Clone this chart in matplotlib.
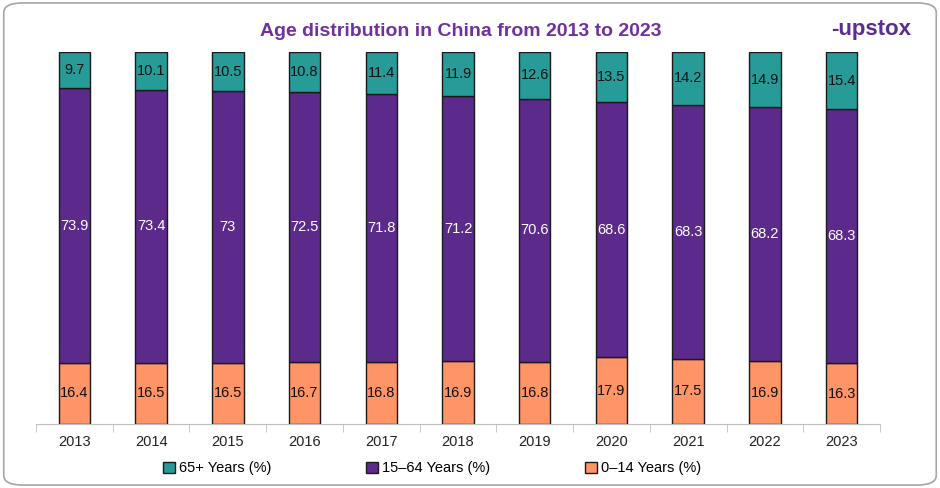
import matplotlib
matplotlib.use("Agg")
import matplotlib.pyplot as plt
from matplotlib.patches import FancyBboxPatch, Patch
import numpy as np

years = ["2013", "2014", "2015", "2016", "2017", "2018", "2019", "2020", "2021", "2022", "2023"]
age_0_14 = [16.4, 16.5, 16.5, 16.7, 16.8, 16.9, 16.8, 17.9, 17.5, 16.9, 16.3]
age_15_64 = [73.9, 73.4, 73, 72.5, 71.8, 71.2, 70.6, 68.6, 68.3, 68.2, 68.3]
age_65 = [9.7, 10.1, 10.5, 10.8, 11.4, 11.9, 12.6, 13.5, 14.2, 14.9, 15.4]

c_young = "#ff9466"
c_mid = "#5b2a8a"
c_old = "#269b97"

plt.rcParams['font.family'] = ['Liberation Sans', 'DejaVu Sans']

fig = plt.figure(figsize=(9.4, 4.88), dpi=100)
ax = fig.add_axes([36/940, 1-424/488, (880-36)/940, (424-52)/488])

x = np.arange(len(years))
w = 0.41
ek = dict(edgecolor="#1a1a1a", linewidth=1.0)
ax.bar(x, age_0_14, w, color=c_young, **ek)
ax.bar(x, age_15_64, w, bottom=age_0_14, color=c_mid, **ek)
bottom3 = [a + b for a, b in zip(age_0_14, age_15_64)]
ax.bar(x, age_65, w, bottom=bottom3, color=c_old, **ek)

def fmt(v):
    return f"{v:g}"

for i in range(len(years)):
    ax.text(x[i], age_0_14[i] / 2, fmt(age_0_14[i]), ha="center", va="center", fontsize=10.5, color="#111111")
    ax.text(x[i], age_0_14[i] + age_15_64[i] / 2, fmt(age_15_64[i]), ha="center", va="center", fontsize=10.5, color="white")
    ax.text(x[i], bottom3[i] + age_65[i] / 2, fmt(age_65[i]), ha="center", va="center", fontsize=10.5, color="#111111")

ax.set_xlim(-0.5, len(years) - 0.5)
ax.set_ylim(0, 100)
ax.set_yticks([])
for s in ["left", "right", "top"]:
    ax.spines[s].set_visible(False)
ax.spines["bottom"].set_color("#bfbfbf")
ax.set_xticks(x)
ax.set_xticklabels(years, fontsize=10.5, color="#222222")
ax.tick_params(axis="x", length=0, pad=8)
ax.set_xticks(np.arange(-0.5, len(years)), minor=True)
ax.tick_params(axis="x", which="minor", length=6, color="#bfbfbf", direction="out")

fig.text(0.49, 0.935, "Age distribution in China from 2013 to 2023", ha="center", va="center",
         fontsize=14, fontweight="bold", color="#7030a0")
fig.text(0.927, 0.94, "\u2010upstox", ha="center", va="center", fontsize=16, fontweight="bold", color="#5a2d91")

handles = [Patch(facecolor=c_old, edgecolor="#1a1a1a", label="65+ Years (%)"),
           Patch(facecolor=c_mid, edgecolor="#1a1a1a", label="15\u201364 Years (%)"),
           Patch(facecolor=c_young, edgecolor="#1a1a1a", label="0\u201314 Years (%)")]
fig.legend(handles=handles, loc="center", bbox_to_anchor=(0.46, 0.04), ncol=3, frameon=False,
           fontsize=10.5, columnspacing=6.5, handlelength=0.8, handleheight=0.8, handletextpad=0.3)

border = FancyBboxPatch((0.004, 0.006), 0.992, 0.988, boxstyle="round,pad=0,rounding_size=0.02",
                        transform=fig.transFigure, facecolor="none", edgecolor="#a6a6a6", linewidth=1.2)
fig.patches.append(border)

fig.savefig("out.png", dpi=100)
